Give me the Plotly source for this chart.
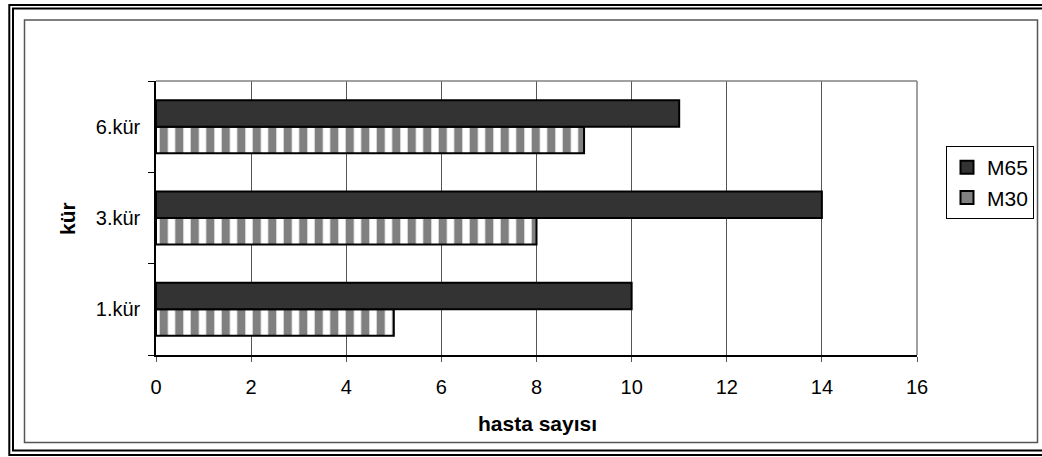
import plotly.graph_objects as go

categories = ["1.kür", "3.kür", "6.kür"]
m65_values = [10, 14, 11]
m30_values = [5, 8, 9]
series_names = ["M65", "M30"]
x_title = "hasta sayısı"
y_title = "kür"

W, H = 1042, 457
ML, MR, MT, MB = 156, 1042 - 917, 81, 457 - 355
PW, PH = W - ML - MR, H - MT - MB


def px(x):
    return (x - ML) / PW


def py(y):
    return (H - MB - y) / PH


FONT = "Arial, 'Liberation Sans', sans-serif"

fig = go.Figure()
fig.add_trace(go.Bar(
    y=categories, x=m30_values, orientation="h", name=series_names[1],
    marker=dict(color="white", line=dict(color="black", width=2),
                pattern=dict(shape="|", fgcolor="#808080", bgcolor="white",
                             size=15.5, solidity=0.53, fillmode="replace")),
    showlegend=False,
))
fig.add_trace(go.Bar(
    y=categories, x=m65_values, orientation="h", name=series_names[0],
    marker=dict(color="#333333", line=dict(color="black", width=2)),
    showlegend=False,
))
# legend entries
for name, col in [(series_names[0], "#333333"), (series_names[1], "#808080")]:
    fig.add_trace(go.Scatter(
        x=[None], y=[None], mode="markers", name=name, legendgroup=name,
        marker=dict(symbol="square", size=13, color=col,
                    line=dict(color="black", width=2)),
    ))

shapes = [
    # outer double border
    dict(type="rect", xref="paper", yref="paper",
         x0=px(9.3), y0=py(5), x1=px(1070), y1=py(455),
         line=dict(color="black", width=2)),
    dict(type="rect", xref="paper", yref="paper",
         x0=px(13), y0=py(8.5), x1=px(1065), y1=py(450.5),
         line=dict(color="black", width=2)),
    # chart area frame
    dict(type="rect", xref="paper", yref="paper",
         x0=px(24.5), y0=py(20), x1=px(1037.5), y1=py(442.5),
         line=dict(color="#555555", width=1.5)),
    # plot area top / right border
    dict(type="line", xref="paper", yref="paper", x0=0, y0=1, x1=1, y1=1,
         line=dict(color="#808080", width=1.5)),
    dict(type="line", xref="paper", yref="paper", x0=1, y0=0, x1=1, y1=1,
         line=dict(color="#808080", width=1.5)),
]

annotations = [
    dict(text="<b>%s</b>" % x_title, xref="paper", yref="paper",
         x=px(537), y=py(423), xanchor="center", yanchor="middle",
         showarrow=False, font=dict(family=FONT, size=21, color="black")),
    dict(text="<b>%s</b>" % y_title, xref="paper", yref="paper",
         x=px(68), y=py(219), xanchor="center", yanchor="middle",
         textangle=-90, showarrow=False,
         font=dict(family=FONT, size=21, color="black")),
]

fig.update_layout(
    width=W, height=H, autosize=False,
    margin=dict(l=ML, r=MR, t=MT, b=MB, pad=0, autoexpand=False),
    paper_bgcolor="white", plot_bgcolor="white",
    font=dict(family=FONT, size=20, color="black"),
    barmode="group", bargap=0.42, bargroupgap=0,
    shapes=shapes, annotations=annotations,
    legend=dict(x=px(946), y=py(146), xanchor="left", yanchor="top",
                bgcolor="white", bordercolor="black", borderwidth=1,
                font=dict(family=FONT, size=21, color="black"),
                tracegroupgap=0, itemwidth=30),
    xaxis=dict(range=[0, 16], dtick=2, tick0=0, showgrid=True,
               gridcolor="#555555", gridwidth=1, zeroline=False,
               showline=True, linecolor="black", linewidth=1.5,
               ticks="outside", ticklen=5, tickcolor="#555555",
               ticklabelstandoff=8, automargin=False,
               tickfont=dict(family=FONT, size=20, color="black")),
    yaxis=dict(type="category", categoryorder="array", categoryarray=categories,
               showgrid=False, zeroline=False, showline=True,
               linecolor="black", linewidth=1.5,
               ticks="outside", ticklen=6, tickcolor="black",
               tickson="boundaries", ticklabelstandoff=10, automargin=False,
               tickfont=dict(family=FONT, size=20, color="black")),
)

fig.write_html("out.html",
               config={"responsive": False, "displayModeBar": False},
               post_script="document.body.style.margin='0';"
                           "document.body.style.overflow='hidden';")
